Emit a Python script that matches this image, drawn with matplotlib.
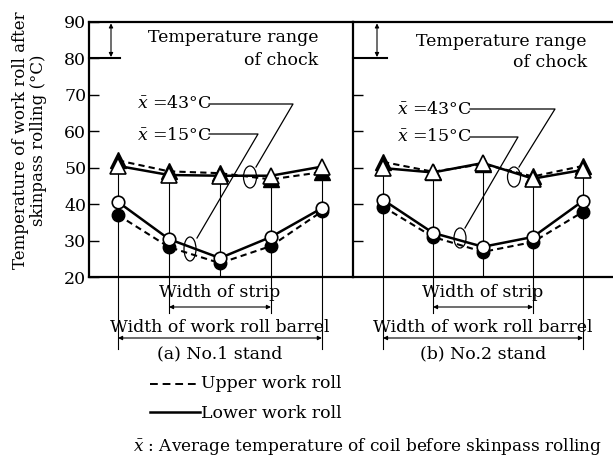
import matplotlib
matplotlib.use('Agg')
import matplotlib.pyplot as plt
from matplotlib.transforms import Affine2D, blended_transform_factory
from matplotlib.patches import Ellipse
from matplotlib.lines import Line2D

plt.rcParams['font.family'] = ['DejaVu Serif']
plt.rcParams['mathtext.fontset'] = 'dejavuserif'

# ---------------- data ----------------
positions = [1, 2, 3, 4, 5]
stand_labels = ['(a) No.1 stand', '(b) No.2 stand']
y_ticks = [20, 30, 40, 50, 60, 70, 80, 90]
chock_range = [80, 90]

# No.1 stand
s1_upper_43 = [52.0, 49.0, 48.5, 46.8, 48.8]   # dashed, filled triangles
s1_lower_43 = [50.5, 48.0, 47.8, 47.8, 50.3]   # solid, open triangles
s1_upper_15 = [37.0, 28.2, 23.8, 28.5, 38.0]   # dashed, filled circles
s1_lower_15 = [40.6, 30.4, 25.2, 31.0, 38.9]   # solid, open circles
# No.2 stand
s2_upper_43 = [51.6, 48.9, 51.0, 47.6, 50.5]
s2_lower_43 = [49.9, 48.7, 51.3, 47.0, 49.4]
s2_upper_15 = [39.3, 31.0, 26.9, 29.6, 37.9]
s2_lower_15 = [41.2, 32.1, 28.3, 31.0, 40.9]

W, H = 613, 457
FS = 12.5
fig = plt.figure(figsize=(W / 100, H / 100), dpi=100)
# pixel (from top-left) -> figure transform
T = Affine2D().scale(1 / W, -1 / H).translate(0, 1) + fig.transFigure

ax1 = fig.add_axes([89 / W, (H - 277) / H, 264 / W, 255 / H])
ax2 = fig.add_axes([353 / W, (H - 277) / H, 262 / W, 255 / H])
ax1.set_xlim(0.43, 5.61)
ax2.set_xlim(0.40, 5.64)

DASH = (0, (3, 2))

def draw_panel(ax, up43, lo43, up15, lo15, stand, left_labels):
    ax.set_ylim(20, 90)
    ax.set_yticks(y_ticks)
    ax.set_xticks([])
    ax.tick_params(axis='y', direction='in', length=7, width=1.0, pad=2,
                   labelsize=FS, labelleft=left_labels)
    for s in ['left', 'top', 'bottom']:
        ax.spines[s].set_linewidth(1.6)
    ax.spines['right'].set_visible(False)
    bt = blended_transform_factory(ax.transData, T)
    # vertical guide lines
    for i, x in enumerate(positions):
        ax.plot([x, x], [lo43[i], 20], color='k', lw=0.8, zorder=1)
        if i in (0, 4):
            ax.plot([x, x], [277, 349], color='k', lw=0.8, transform=bt, clip_on=False)
        elif i in (1, 3):
            ax.plot([x, x], [277, 313], color='k', lw=0.8, transform=bt, clip_on=False)
    # data
    ax.plot(positions, up43, color='k', ls=DASH, lw=1.5, marker='^', ms=12,
            mfc='k', mec='k', zorder=3, clip_on=False)
    ax.plot(positions, up15, color='k', ls=DASH, lw=1.5, marker='o', ms=9,
            mfc='k', mec='k', zorder=3, clip_on=False)
    ax.plot(positions, lo43, color='k', ls='-', lw=1.8, marker='^', ms=12,
            mfc='white', mec='k', mew=1.2, zorder=4, clip_on=False)
    ax.plot(positions, lo15, color='k', ls='-', lw=1.8, marker='o', ms=9,
            mfc='white', mec='k', mew=1.2, zorder=4, clip_on=False)
    # strip / barrel
    mid = positions[2]
    ax.text(mid, 297, 'Width of strip', transform=bt, ha='center', va='baseline', fontsize=FS)
    ax.annotate('', xy=(positions[1], 307), xytext=(positions[3], 307),
                xycoords=bt, textcoords=bt,
                arrowprops=dict(arrowstyle='<|-|>', lw=0.8, color='k',
                                mutation_scale=6, shrinkA=0, shrinkB=0))
    ax.text(mid, 332, 'Width of work roll barrel', transform=bt, ha='center',
            va='baseline', fontsize=FS)
    ax.annotate('', xy=(positions[0], 338), xytext=(positions[4], 338),
                xycoords=bt, textcoords=bt,
                arrowprops=dict(arrowstyle='<|-|>', lw=0.8, color='k',
                                mutation_scale=6, shrinkA=0, shrinkB=0))
    ax.text(mid, 358, stand, transform=bt, ha='center', va='baseline', fontsize=FS)


draw_panel(ax1, s1_upper_43, s1_lower_43, s1_upper_15, s1_lower_15, stand_labels[0], True)
draw_panel(ax2, s2_upper_43, s2_lower_43, s2_upper_15, s2_lower_15, stand_labels[1], False)
ax2.set_yticks([30, 40, 50, 60, 70])

# chock temperature range
for ax, xa, xe in [(ax1, 111, 120), (ax2, 377, 387)]:
    bx = blended_transform_factory(T, ax.transData)
    ax.plot([ax.get_position().x0 * W, xe], [chock_range[0], chock_range[0]],
            color='k', lw=1.5, transform=bx, clip_on=False)
    ax.annotate('', xy=(xa, chock_range[1]), xytext=(xa, chock_range[0]),
                xycoords=bx, textcoords=bx,
                arrowprops=dict(arrowstyle='<|-|>', lw=0.8, color='k',
                                mutation_scale=6, shrinkA=1, shrinkB=1))

fig.text(318, 42, 'Temperature range', transform=T, ha='right', va='baseline', fontsize=FS)
fig.text(318, 65, 'of chock', transform=T, ha='right', va='baseline', fontsize=FS)
fig.text(587, 46, 'Temperature range', transform=T, ha='right', va='baseline', fontsize=FS)
fig.text(587, 67, 'of chock', transform=T, ha='right', va='baseline', fontsize=FS)

# x-bar labels with leader lines and loops
labels = [
    (137, 108, r'$\bar{x}$ =43°C', [(209, 104), (293, 104), (256, 167)], (250, 177, 13, 22)),
    (137, 140, r'$\bar{x}$ =15°C', [(209, 134), (258, 134), (197, 238)], (190, 249, 12, 24)),
    (397, 114, r'$\bar{x}$ =43°C', [(470, 109), (555, 109), (519, 167)], (514, 177, 13, 20)),
    (397, 141, r'$\bar{x}$ =15°C', [(470, 137), (518, 137), (465, 228)], (460, 238, 12, 20)),
]
for tx, ty, s, pts, (ex, ey, ew, eh) in labels:
    fig.text(tx, ty, s, transform=T, ha='left', va='baseline', fontsize=FS)
    fig.add_artist(Line2D([p[0] for p in pts], [p[1] for p in pts], transform=T,
                          color='k', lw=0.9))
    e = Ellipse((ex / W, 1 - ey / H), ew / W, eh / H, transform=fig.transFigure,
                fill=False, lw=0.9, ec='k')
    fig.add_artist(e)

# legend
fig.add_artist(Line2D([150, 200], [384, 384], transform=T, color='k', lw=1.4, ls=(0, (4, 2.5))))
fig.text(201, 388, 'Upper work roll', transform=T, ha='left', va='baseline', fontsize=FS)
fig.add_artist(Line2D([150, 200], [412, 412], transform=T, color='k', lw=1.8))
fig.text(201, 418, 'Lower work roll', transform=T, ha='left', va='baseline', fontsize=FS)
fig.text(133, 451, r'$\bar{x}$ : Average temperature of coil before skinpass rolling',
         transform=T, ha='left', va='baseline', fontsize=12.2)

# y label
fig.text(21, 140, 'Temperature of work roll after', transform=T, rotation=90,
         ha='center', va='center', fontsize=12)
fig.text(39, 140, 'skinpass rolling (°C)', transform=T, rotation=90,
         ha='center', va='center', fontsize=12)

fig.savefig('out.png', dpi=100)
